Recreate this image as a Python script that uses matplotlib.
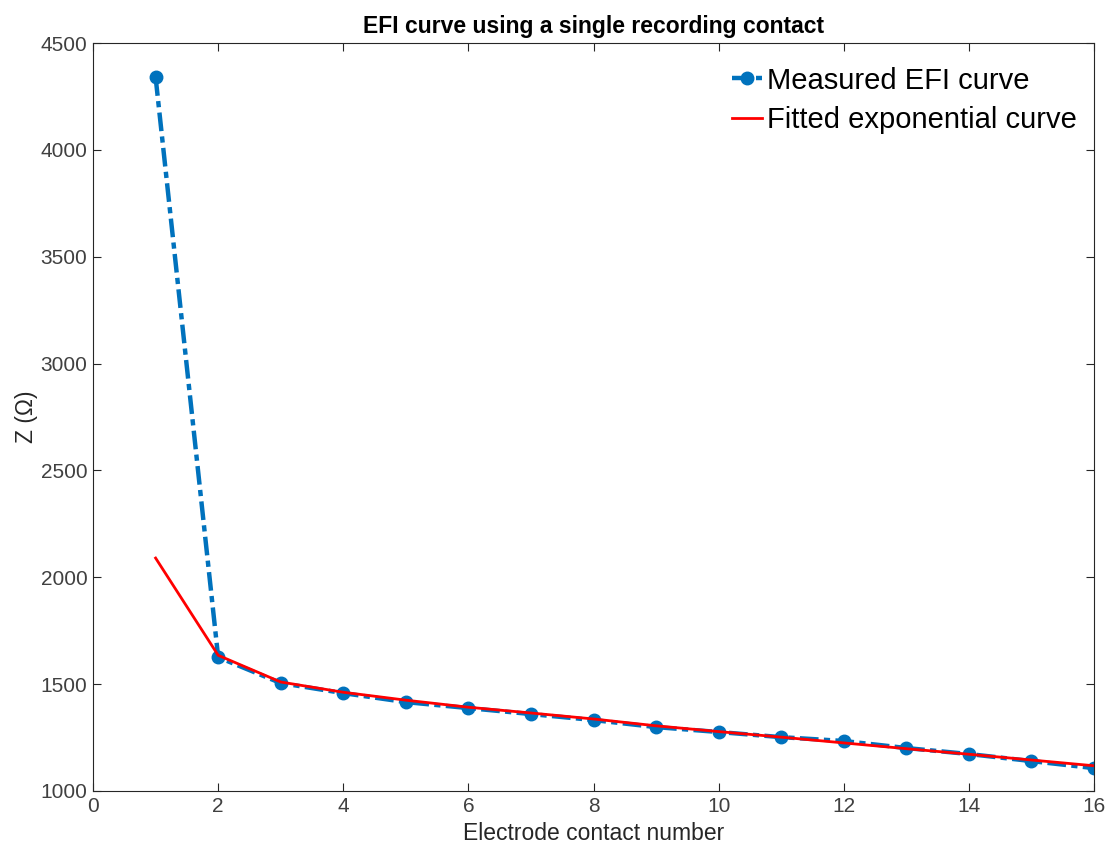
import matplotlib.pyplot as plt

plt.rcParams['font.family'] = ['Liberation Sans', 'DejaVu Sans']

# Electrode contacts and impedance values
contacts = list(range(1, 17))
measured = [4340, 1626, 1505, 1458, 1416, 1388, 1360, 1332,
            1299, 1276, 1252, 1234, 1201, 1173, 1140, 1107]
fitted = [2090, 1635, 1510, 1462, 1425, 1392, 1365, 1337,
          1305, 1278, 1252, 1225, 1198, 1172, 1145, 1118]

fig = plt.figure(figsize=(11.09, 8.52), dpi=100)
ax = fig.add_axes([0.0839, 0.0716, 0.9026, 0.8779])

ax.plot(contacts, measured, linestyle='-.', dashes=(4.2, 1.2, 1.4, 1.2),
        color='#0072BD', linewidth=3.2, marker='o', markersize=9,
        label='Measured EFI curve')
ax.plot(contacts, fitted, color='#FF0000', linewidth=2, label='Fitted exponential curve')

ax.set_xlim(0, 16)
ax.set_ylim(1000, 4500)
ax.set_xticks(range(0, 17, 2))
ax.set_yticks(range(1000, 4501, 500))

ax.set_title('EFI curve using a single recording contact', fontsize=16.5,
             fontweight='bold', pad=7)
ax.set_xlabel('Electrode contact number', fontsize=16.5, color='#262626', labelpad=5)
ax.set_ylabel('Z (Ω)', fontsize=16.5, color='#262626', labelpad=2)

ax.tick_params(direction='in', top=True, right=True, labelsize=15,
               colors='#262626', labelcolor='#404040', length=6, pad=4)
for s in ax.spines.values():
    s.set_color('#262626')
    s.set_linewidth(0.8)

ax.legend(loc='upper right', bbox_to_anchor=(1.0, 0.992), frameon=False,
          fontsize=21, handlelength=1.05, handletextpad=0.15,
          borderaxespad=0.2, labelspacing=0.4)

plt.savefig('out.png')
